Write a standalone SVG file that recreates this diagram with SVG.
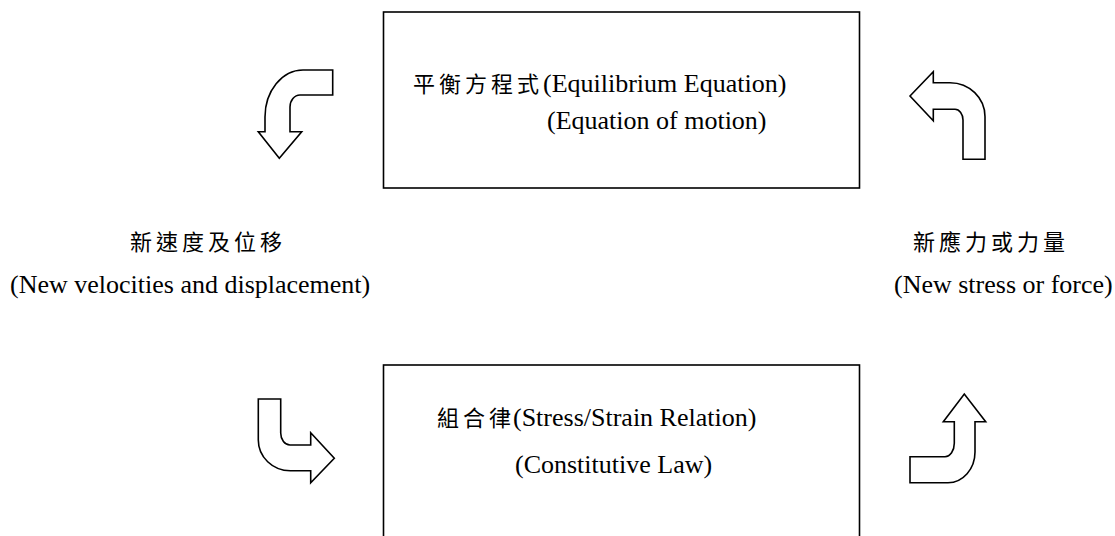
<svg xmlns="http://www.w3.org/2000/svg" width="1115" height="536" viewBox="0 0 1115 536">
<style>
.box{fill:#fff;stroke:#000;stroke-width:1.6}
.arr{fill:#fff;stroke:#000;stroke-width:1.6;stroke-linejoin:miter}
.lat{font-family:"Liberation Serif","Times New Roman",serif;font-size:26px;fill:#000}
.cjk{font-family:"Noto Sans CJK TC","Noto Sans CJK SC",sans-serif;font-size:22px;letter-spacing:4px;fill:#000}
</style>
<rect width="1115" height="536" fill="#fff"/>
<g id="node-equilibrium">
<rect class="box" x="383.5" y="12" width="476" height="176"/>
<text y="92"><tspan class="cjk" x="413">平衡方程式</tspan><tspan class="lat" x="543">(Equilibrium Equation)</tspan></text>
<text class="lat" x="547" y="129">(Equation of motion)</text>
</g>
<g id="node-constitutive">
<rect class="box" x="383.5" y="365" width="476" height="200"/>
<text y="426"><tspan class="cjk" x="437">組合律</tspan><tspan class="lat" x="513">(Stress/Strain Relation)</tspan></text>
<text class="lat" x="515" y="473">(Constitutive Law)</text>
</g>
<g id="label-velocities">
<text class="cjk" x="130" y="250">新速度及位移</text>
<text class="lat" x="10" y="293">(New velocities and displacement)</text>
</g>
<g id="label-stress">
<text class="cjk" x="913" y="250">新應力或力量</text>
<text class="lat" x="894" y="293">(New stress or force)</text>
</g>
<g id="connectors">
<path id="arrow-top-left" class="arr" d="M332.7,70 L303,70 A38,47 0 0 0 265,117 L265,131.7 L258.3,131.7 L279.3,158.3 L301.7,131.7 L290,131.7 L290,107 A10,12 0 0 1 300,95 L332.7,95 Z"/>
<path id="arrow-top-right" class="arr" d="M910,96 L933.3,71.7 L933.3,82.7 L950,82.7 A35,34 0 0 1 985,116.7 L985,159.3 L963,159.3 L963,120 A8,10.7 0 0 0 955,109.3 L933.3,109.3 L933.3,120.7 Z"/>
<path id="arrow-bottom-left" class="arr" d="M258.3,399 L258.3,440 A32,30.7 0 0 0 290.3,470.7 L310.7,470.7 L310.7,482.7 L334.3,458.3 L310.7,432.7 L310.7,445 L290,445 A9.3,12 0 0 1 280.7,433 L280.7,399 Z"/>
<path id="arrow-bottom-right" class="arr" d="M910,456.7 L945,456.7 A9.3,13.4 0 0 0 954.3,443.3 L954.3,421.7 L943.3,421.7 L964.3,394 L985.7,421.7 L975,421.7 L975,452 A27,30.7 0 0 1 948,482.7 L910,482.7 Z"/>
</g>
</svg>
